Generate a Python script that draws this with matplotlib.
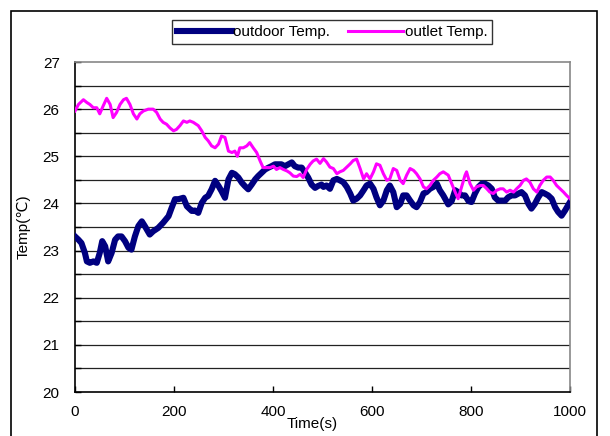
import matplotlib
matplotlib.use("Agg")
import matplotlib.pyplot as plt
from matplotlib.patches import Rectangle

plt.rcParams['font.family'] = ['Liberation Sans', 'DejaVu Sans']

# outdoor temperature
outdoor_t = [0, 7, 13, 20, 24, 30, 37, 44, 50, 55, 61, 67, 74, 81, 87, 94, 101, 108, 114,
             121, 128, 135, 141, 151, 158, 168, 178, 189, 195, 202, 209, 219, 226, 236,
             242, 249, 256, 263, 269, 276, 283, 290, 296, 303, 310, 317, 323, 330, 337,
             343, 350, 357, 364, 370, 377, 384, 391, 397, 404, 411, 417, 424, 431, 438,
             444, 451, 458, 465, 471, 478, 485, 491, 498, 502, 508, 515, 522, 529, 535,
             542, 549, 556, 562, 569, 576, 583, 589, 596, 603, 609, 616, 623, 630, 636,
             643, 650, 657, 663, 670, 677, 684, 690, 697, 704, 710, 717, 724, 731, 737,
             744, 754, 761, 768, 774, 781, 788, 795, 801, 808, 815, 822, 828, 835, 842,
             848, 855, 862, 869, 875, 882, 889, 896, 902, 909, 916, 922, 929, 936, 943,
             949, 956, 963, 970, 976, 983, 990, 1000]
outdoor_v = [23.30, 23.23, 23.16, 22.95, 22.77, 22.74, 22.77, 22.74, 22.95, 23.20, 23.09,
             22.77, 22.95, 23.23, 23.30, 23.30, 23.20, 23.06, 23.02, 23.30, 23.52, 23.62,
             23.52, 23.34, 23.41, 23.48, 23.59, 23.73, 23.90, 24.09, 24.09, 24.12, 23.94,
             23.84, 23.85, 23.80, 24.01, 24.12, 24.16, 24.30, 24.48, 24.37, 24.26, 24.12,
             24.51, 24.65, 24.62, 24.55, 24.44, 24.37, 24.30, 24.40, 24.51, 24.58, 24.65,
             24.72, 24.76, 24.79, 24.83, 24.83, 24.83, 24.79, 24.83, 24.87, 24.79, 24.76,
             24.76, 24.65, 24.55, 24.40, 24.33, 24.37, 24.40, 24.35, 24.38, 24.31, 24.49,
             24.52, 24.49, 24.45, 24.35, 24.21, 24.06, 24.10, 24.17, 24.28, 24.38, 24.42,
             24.31, 24.13, 23.96, 24.06, 24.28, 24.38, 24.24, 23.92, 23.99, 24.17, 24.17,
             24.06, 23.96, 23.92, 24.03, 24.21, 24.24, 24.31, 24.35, 24.42, 24.28, 24.17,
             23.98, 24.05, 24.28, 24.24, 24.17, 24.17, 24.05, 24.03, 24.21, 24.35, 24.42,
             24.42, 24.38, 24.31, 24.13, 24.06, 24.06, 24.06, 24.13, 24.17, 24.17, 24.21,
             24.24, 24.17, 23.99, 23.89, 23.99, 24.13, 24.24, 24.21, 24.17, 24.10, 23.92,
             23.82, 23.74, 23.85, 24.03]

# outlet temperature
outlet_t = [0, 7, 17, 24, 30, 37, 44, 50, 57, 64, 71, 77, 84, 91, 98, 104, 111, 118, 125,
            131, 138, 148, 158, 165, 172, 178, 185, 192, 199, 205, 212, 219, 226, 232, 239,
            249, 256, 263, 269, 276, 283, 290, 296, 303, 310, 317, 323, 328, 333, 340, 347,
            353, 360, 367, 374, 380, 387, 394, 401, 407, 414, 421, 428, 434, 441, 448, 455,
            461, 468, 475, 481, 488, 495, 502, 508, 515, 522, 529, 535, 542, 549, 556, 562,
            569, 576, 583, 589, 596, 603, 609, 616, 623, 630, 636, 643, 650, 657, 663, 670,
            677, 684, 690, 697, 704, 710, 717, 724, 731, 737, 744, 754, 761, 768, 774, 781,
            788, 791, 798, 805, 811, 818, 825, 832, 838, 845, 852, 859, 865, 872, 879, 886,
            892, 899, 906, 912, 919, 926, 933, 939, 946, 953, 960, 966, 973, 980, 987, 993,
            1000]
outlet_v = [25.96, 26.10, 26.20, 26.14, 26.10, 26.03, 26.03, 25.90, 26.07, 26.23, 26.10,
            25.82, 25.93, 26.10, 26.20, 26.23, 26.10, 25.90, 25.79, 25.90, 25.96, 26.00,
            26.00, 25.93, 25.79, 25.72, 25.68, 25.60, 25.54, 25.57, 25.65, 25.75, 25.72,
            25.75, 25.72, 25.65, 25.54, 25.40, 25.33, 25.22, 25.18, 25.26, 25.43, 25.40,
            25.11, 25.08, 25.11, 25.00, 25.18, 25.18, 25.22, 25.29, 25.18, 25.08, 24.90,
            24.76, 24.76, 24.76, 24.79, 24.72, 24.76, 24.72, 24.69, 24.65, 24.58, 24.57,
            24.62, 24.55, 24.72, 24.83, 24.90, 24.94, 24.85, 24.95, 24.88, 24.77, 24.74,
            24.63, 24.67, 24.70, 24.77, 24.84, 24.91, 24.94, 24.74, 24.52, 24.63, 24.52,
            24.67, 24.84, 24.81, 24.63, 24.49, 24.52, 24.74, 24.70, 24.49, 24.42, 24.60,
            24.74, 24.70, 24.63, 24.52, 24.35, 24.31, 24.38, 24.49, 24.56, 24.63, 24.67,
            24.60, 24.42, 24.24, 24.10, 24.35, 24.60, 24.67, 24.42, 24.28, 24.35, 24.38,
            24.38, 24.31, 24.24, 24.21, 24.28, 24.31, 24.31, 24.24, 24.28, 24.24, 24.31,
            24.38, 24.49, 24.52, 24.45, 24.31, 24.24, 24.38, 24.49, 24.56, 24.56, 24.49,
            24.38, 24.31, 24.24, 24.17, 24.10]

x_ticks = [0, 200, 400, 600, 800, 1000]
y_ticks = [20, 21, 22, 23, 24, 25, 26, 27]

fig = plt.figure(figsize=(6.1, 4.36), dpi=100)
ax = fig.add_axes([75 / 610, 1 - 392 / 436, 495 / 610, 330 / 436])

# outer chart border
fig.patches.append(Rectangle((11 / 610, -0.05), 586 / 610, 1.05 - 11 / 436,
                             transform=fig.transFigure, fill=False,
                             edgecolor='black', linewidth=1.2))

for g in [20.5, 21, 21.5, 22, 22.5, 23, 23.5, 24, 24.5, 25, 25.5, 26, 26.5]:
    ax.axhline(g, color='#222222', linewidth=0.9, zorder=1)

ax.plot(outdoor_t, outdoor_v, color='#000080', linewidth=4.4, label='outdoor Temp.',
        solid_joinstyle='round', zorder=3)
ax.plot(outlet_t, outlet_v, color='#FF00FF', linewidth=2.2, label='outlet Temp.', zorder=4)

ax.set_xlim(0, 1000)
ax.set_ylim(20, 27)
ax.set_xticks(x_ticks)
ax.set_yticks(y_ticks)
ax.set_yticks([20.5, 21.5, 22.5, 23.5, 24.5, 25.5, 26.5], minor=True)
ax.tick_params(axis='both', direction='in', length=4, width=1, labelsize=11,
               colors='black')
ax.tick_params(axis='y', which='minor', direction='in', length=4, width=1)
ax.tick_params(axis='x', pad=9)
ax.tick_params(axis='y', pad=11)

for side in ['left', 'bottom']:
    ax.spines[side].set_color('black')
    ax.spines[side].set_linewidth(1.2)
for side in ['top', 'right']:
    ax.spines[side].set_color('#888888')
    ax.spines[side].set_linewidth(1.2)

ax.set_ylabel('Temp(℃)', fontsize=11, labelpad=9)
ax.text(0.48, -0.077, 'Time(s)', transform=ax.transAxes, fontsize=11,
        ha='center', va='top')

fig.legend(loc='center', bbox_to_anchor=(332 / 610, 1 - 32 / 436), ncol=2,
           fontsize=11, frameon=True, fancybox=False, edgecolor='#333333',
           handlelength=3.6, handletextpad=0.1, columnspacing=1.2,
           borderpad=0.3, framealpha=1)

fig.savefig('out.png', dpi=100)
